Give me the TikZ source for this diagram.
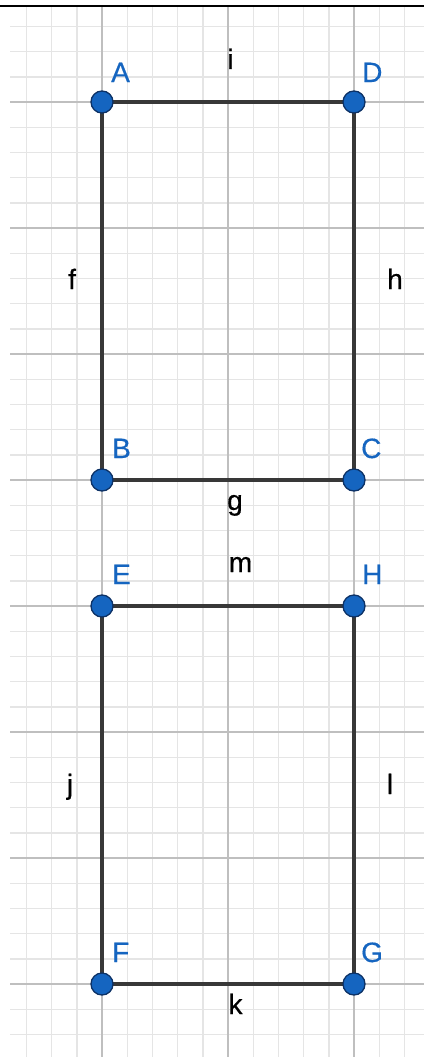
\documentclass[tikz,border=0pt]{standalone}
\usepackage{fontspec}
\setmainfont{Liberation Sans}
\newfontfamily\lblfont[FakeBold=0.5]{Liberation Sans}
\begin{document}
\begin{tikzpicture}[x=1pt,y=-1pt,
  minorline/.style={draw=black!10,line width=1.4pt},
  majorline/.style={draw=black!25,line width=1.4pt},
  seg/.style={draw=black!78,line width=4.8pt},
  ptdot/.style={circle,fill=ptblue,draw=ptdark,line width=1.3pt,minimum size=22pt,inner sep=0pt},
  ptlabel/.style={text=ptblue,anchor=base west,inner sep=0pt,font=\lblfont\fontsize{28}{32}\selectfont},
  seglabel/.style={text=black,anchor=base,inner sep=0pt,font=\lblfont\fontsize{28}{32}\selectfont}]
\definecolor{ptblue}{HTML}{1565C0}
\definecolor{ptdark}{HTML}{0D3266}
\useasboundingbox (0,0) rectangle (424,1057);
\fill[white] (0,0) rectangle (424,1057);
% grid
\begin{scope}
\clip (10,7) rectangle (424,1057);
\foreach \k in {-3,...,12} \draw[minorline] ({102+25.2*\k},0) -- ({102+25.2*\k},1057);
\foreach \k in {-4,...,37} \draw[minorline] (0,{102+25.2*\k}) -- (424,{102+25.2*\k});
\foreach \k in {0,1,2} \draw[majorline] ({102+126*\k},0) -- ({102+126*\k},1057);
\foreach \k in {0,...,7} \draw[majorline] (0,{102+126*\k}) -- (424,{102+126*\k});
\end{scope}
\draw[black,line width=2pt] (0,6) -- (424,6);
% points
\coordinate (A) at (102,102);
\coordinate (D) at (354,102);
\coordinate (B) at (102,480);
\coordinate (C) at (354,480);
\coordinate (E) at (102,606);
\coordinate (H) at (354,606);
\coordinate (F) at (102,984);
\coordinate (G) at (354,984);
% segments
\draw[seg] (A) -- (D);
\draw[seg] (A) -- (B);
\draw[seg] (D) -- (C);
\draw[seg] (B) -- (C);
\draw[seg] (E) -- (H);
\draw[seg] (E) -- (F);
\draw[seg] (H) -- (G);
\draw[seg] (F) -- (G);
% dots
\foreach \p in {A,B,C,D,E,F,G,H} \node[ptdot] (dot\p) at (\p) {};
% point labels
\node[ptlabel] (lA) at (111,82) {A};
\node[ptlabel] (lD) at (362,82) {D};
\node[ptlabel] (lB) at (112,458) {B};
\node[ptlabel] (lC) at (361,458) {C};
\node[ptlabel] (lE) at (112,584) {E};
\node[ptlabel] (lH) at (362,584) {H};
\node[ptlabel] (lF) at (112,962) {F};
\node[ptlabel] (lG) at (361,962) {G};
% segment labels
\node[seglabel] (li) at (230.5,69) {i};
\node[seglabel] (lf) at (72,289) {f};
\node[seglabel] (lh) at (395,289) {h};
\node[seglabel] (lg) at (235,510) {g};
\node[seglabel] (lm) at (240.5,572) {m};
\node[seglabel] (lj) at (70,794) {j};
\node[seglabel] (ll) at (390,794) {l};
\node[seglabel] (lk) at (235.5,1014) {k};
\end{tikzpicture}
\end{document}
